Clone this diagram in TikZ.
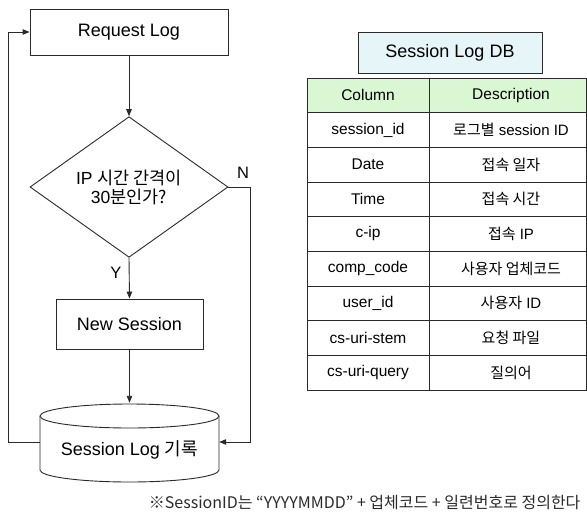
\documentclass[tikz,border=0pt]{standalone}
\usepackage{fontspec}
\setmainfont{Liberation Sans}
\newfontfamily\kr{Noto Sans CJK KR}
\usetikzlibrary{shapes.geometric,arrows.meta}
\definecolor{ink}{HTML}{2A2A2A}
\definecolor{titlefill}{HTML}{E6F6F8}
\definecolor{headfill}{HTML}{D9F7D2}
\tikzset{
  wire/.style={draw=ink, line width=0.9pt},
  arr/.style={wire, -{Triangle[length=7pt,width=5.5pt]}},
  procbox/.style={draw=ink, line width=0.9pt, rectangle, inner sep=0pt,
    font=\fontsize{18}{21}\selectfont},
  decision/.style={draw=ink, line width=0.9pt, diamond, inner sep=0pt, align=center,
    minimum width=198pt, minimum height=138pt, font=\fontsize{17.5}{20}\selectfont},
  flag/.style={font=\fontsize{16.5}{19}\selectfont},
  colname/.style={font=\fontsize{15.5}{18}\selectfont},
  coldesc/.style={font=\fontsize{15}{18}\selectfont},
  grid/.style={draw=ink, line width=0.9pt}
}
\begin{document}
\begin{tikzpicture}[x=1pt,y=-1pt]
\useasboundingbox (0,0) rectangle (587,520);

% ---- flow chart ----
\node[procbox, minimum width=198pt, minimum height=46pt] (req) at (129,32) {Request Log};
\node[decision] (dec) at (129,187) {IP {\kr 시간 간격이}\\[-1pt]30{\kr 분인가?}};
\node[procbox, minimum width=147pt, minimum height=50pt] (new) at (129.5,324) {New Session};

% database cylinder: anchor box plus drawn outline
\node[minimum width=179pt, minimum height=78pt, inner sep=0pt] (db) at (129.5,442) {};
\fill[white] (40,416) -- (40,470) arc[start angle=180, end angle=360, x radius=89.5pt, y radius=12pt] -- (219,416) -- cycle;
\draw[wire] (40,416) -- (40,470) arc[start angle=180, end angle=360, x radius=89.5pt, y radius=12pt] -- (219,416);
\draw[wire, fill=white] (129.5,416) ellipse [x radius=89.5pt, y radius=12pt];
\node[font=\fontsize{18}{21}\selectfont] (dbtext) at (129.5,450) {Session Log {\kr 기록}};

\draw[arr] (req.south) -- (dec.north);
\draw[arr] (dec.south) -- node[flag, pos=0.38, left=4pt] (ylab) {Y} (new.north);
\draw[arr] (new.south) -- (db.north);
\draw[arr] (dec.east) -- ++(22,0) coordinate (nturn) |- (db.east);
\node[flag] (nlab) at (243,173) {N};
\draw[arr] (db.west) -- (8,442) |- (req.west);

% ---- session log table ----
\node[draw=ink, line width=0.9pt, fill=titlefill, minimum width=184pt, minimum height=41pt,
  inner sep=0pt, font=\fontsize{18}{21}\selectfont] (title) at (450,52.5) {Session Log DB};

\fill[headfill] (307,78) rectangle (586.5,112.7);
\draw[grid] (307,78) rectangle (586.5,390);
\draw[grid] (429,78) -- (429,390);
\foreach \k in {1,...,8} {
  \draw[grid] (307,{78+34.667*\k}) -- (586.5,{78+34.667*\k});
}

\node[colname] (hcol) at (368,95.3) {Column};
\node[colname] (hdesc) at (511,95.3) {Description};

\foreach \i/\nm/\ds in {
  1/session\_id/{{\kr 로그별} session ID},
  2/Date/{\kr 접속 일자},
  3/Time/{\kr 접속 시간},
  4/c-ip/{{\kr 접속} IP},
  5/comp\_code/{\kr 사용자 업체코드},
  6/user\_id/{{\kr 사용자} ID},
  7/cs-uri-stem/{\kr 요청 파일},
  8/cs-uri-query/{\kr 질의어}} {
  \node[colname] (n\i) at (368,{95.3+34.667*\i}) {\nm};
  \node[coldesc] (d\i) at (511,{95.3+34.667*\i}) {\ds};
}

% ---- footnote ----
\node[anchor=east, font=\kr\fontsize{16}{19}\selectfont, text=ink] (note) at (584,503)
  {※SessionID는 “YYYYMMDD” + 업체코드 + 일련번호로 정의한다};
\end{tikzpicture}
\end{document}
